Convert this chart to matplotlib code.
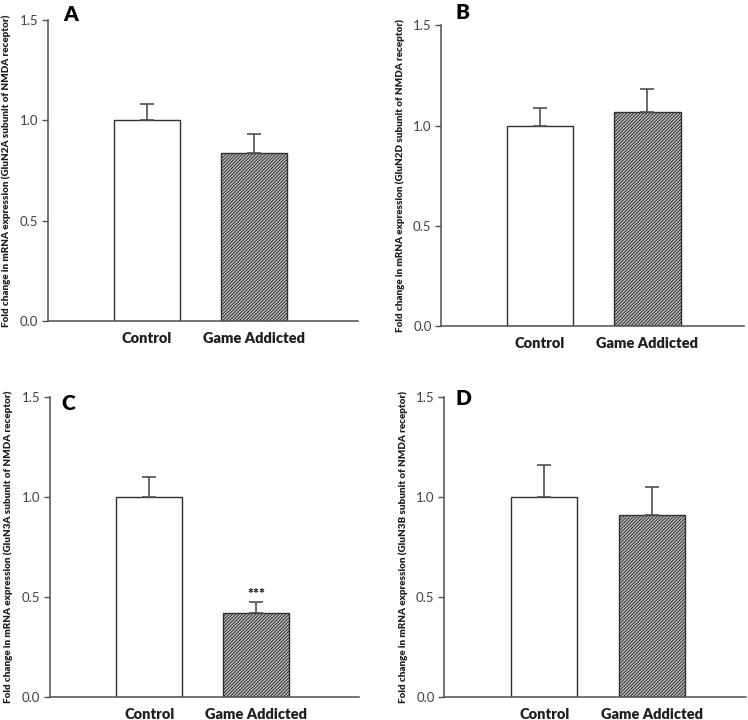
import numpy as np
import matplotlib
matplotlib.use("Agg")
import matplotlib.pyplot as plt

plt.rcParams['font.family'] = ['Lato', 'DejaVu Sans']
plt.rcParams['hatch.color'] = '#2e2e2e'
plt.rcParams['hatch.linewidth'] = 0.7

groups = ["Control", "Game Addicted"]
panels = ["A", "B", "C", "D"]
subunits = ["GluN2A", "GluN2D", "GluN3A", "GluN3B"]
means = [
    [1.00, 0.84],
    [1.00, 1.065],
    [1.00, 0.42],
    [1.00, 0.908],
]
errs = [
    [0.083, 0.094],
    [0.086, 0.116],
    [0.098, 0.055],
    [0.157, 0.140],
]
stars = ["", "", "***", ""]

# axes boxes in figure fraction and x limits per panel
boxes = [
    [0.064, 0.554, 0.415, 0.418],
    [0.590, 0.547, 0.405, 0.418],
    [0.067, 0.032, 0.413, 0.417],
    [0.594, 0.032, 0.403, 0.417],
]
xlims = [(-0.925, 1.97), (-0.916, 1.90), (-0.925, 1.96), (-0.926, 1.87)]
label_pos = [(0.094, 0.980), (0.618, 0.982), (0.091, 0.440), (0.620, 0.447)]

fig = plt.figure(figsize=(7.48, 7.2), dpi=100)
axc = '#505050'

for i in range(4):
    ax = fig.add_axes(boxes[i])
    x = np.arange(len(groups))
    ax.bar(x[0], means[i][0], width=0.617, color='white', edgecolor='#303030', linewidth=1.0)
    ax.bar(x[1], means[i][1], width=0.617, color='#bdbdbd', edgecolor='#303030',
           linewidth=1.0, hatch='//////////')
    ax.errorbar(x, means[i], yerr=[[0, 0], errs[i]], fmt='none', ecolor='#505050',
                elinewidth=1.2, capsize=5, capthick=1.2)
    if stars[i]:
        ax.text(x[1], means[i][1] + errs[i][1] + 0.005, stars[i], ha='center', va='bottom',
                fontsize=10, fontweight='heavy', color='#202020')
    ax.set_xlim(*xlims[i])
    ax.set_ylim(0, 1.5)
    ax.set_yticks([0.0, 0.5, 1.0, 1.5])
    ax.set_yticklabels(["0.0", "0.5", "1.0", "1.5"])
    ax.set_xticks(x)
    ax.set_xticklabels(groups, fontsize=10.5, fontweight='heavy')
    ax.tick_params(axis='x', length=0, pad=8, colors='#202020')
    ax.tick_params(axis='y', length=4, width=1, colors=axc, labelsize=9.5, labelcolor='#404040', pad=3)
    for s in ['top', 'right']:
        ax.spines[s].set_visible(False)
    for s in ['left', 'bottom']:
        ax.spines[s].set_color(axc)
        ax.spines[s].set_linewidth(1.1)
    ax.set_ylabel("Fold change in mRNA expression (%s subunit of NMDA receptor)" % subunits[i],
                  fontsize=7.1, fontweight='heavy', labelpad=6, color='#202020')
    fig.text(label_pos[i][0], label_pos[i][1], panels[i], fontsize=15, fontweight='heavy',
             ha='center', va='center', color='black')

fig.savefig("out.png", dpi=100)
